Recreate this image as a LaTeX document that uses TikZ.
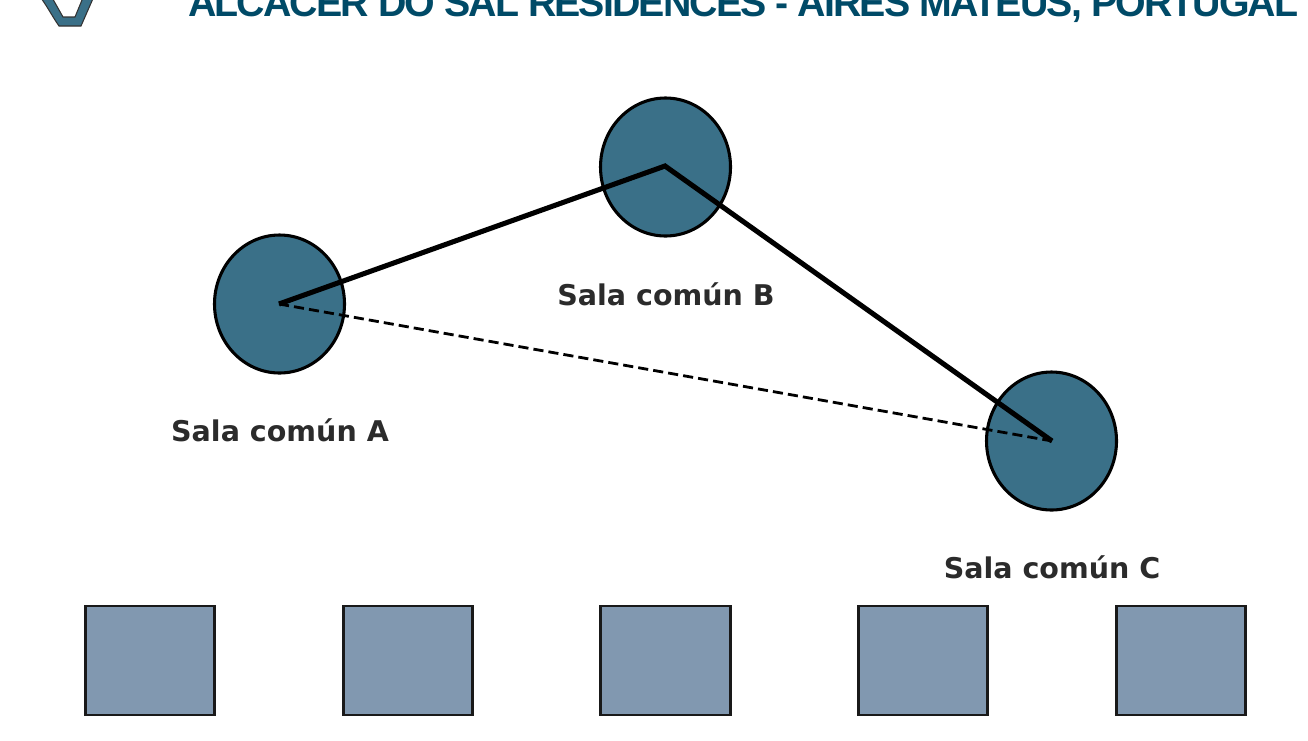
\documentclass[tikz,border=0pt]{standalone}
\usepackage{fontspec}
\setmainfont{Liberation Sans}
\newfontfamily\labelfont{DejaVu Sans}
\newfontfamily\titlefont[LetterSpace=-4.85]{Liberation Sans}
\definecolor{teal1}{HTML}{3A7088}
\definecolor{titleblue}{HTML}{004A67}
\definecolor{boxblue}{HTML}{8198B0}
\definecolor{labelgrey}{HTML}{2B2B2B}
\usetikzlibrary{shapes.geometric}
\tikzset{
  room/.style={draw=black,fill=teal1,line width=2.3pt,ellipse,minimum width=130*0.75pt,minimum height=138*0.75pt,inner sep=0pt},
  unit/.style={draw=black!90,fill=boxblue,line width=2pt,minimum width=129.5*0.75pt,minimum height=109*0.75pt,inner sep=0pt},
  roomlabel/.style={font=\labelfont\bfseries\fontsize{21.4}{25}\selectfont,text=labelgrey,anchor=base,inner sep=0pt},
  solidlink/.style={line width=3.8pt,draw=black},
  dashlink/.style={line width=2.1pt,draw=black,dash pattern=on 7.6pt off 3.8pt},
}
\begin{document}
\begin{tikzpicture}[x=0.75pt,y=-0.75pt]
\useasboundingbox (0,0) rectangle (1308,740);
\clip (0,0) rectangle (1308,740);
\path[fill=white] (0,0) rectangle (1308,740);
\node[room] (a) at (279.5,304) {};
\node[room] (b) at (665.5,167) {};
\node[room] (c) at (1051.5,441) {};
\coordinate (ca) at (279,304);
\coordinate (cb) at (665,166);
\coordinate (cc) at (1052,441);
\draw[solidlink,line join=miter] (ca) -- (cb) -- (cc);
\draw[dashlink] (ca) -- (cc);
\node[roomlabel] (la) at (280,441) {Sala común A};
\node[roomlabel] (lb) at (666,305) {Sala común B};
\node[roomlabel] (lc) at (1052,578) {Sala común C};
\node[unit] (u1) at (150,660.5) {};
\node[unit] (u2) at (408,660.5) {};
\node[unit] (u3) at (665.5,660.5) {};
\node[unit] (u4) at (923,660.5) {};
\node[unit] (u5) at (1181,660.5) {};
\node[font=\titlefont\bfseries\fontsize{29.5}{32}\selectfont,text=titleblue,anchor=base west,inner sep=0pt] (title) at (188,16) {ALCÁCER DO SAL RESIDENCES - AIRES MATEUS, PORTUGAL};
\path[draw=black!80,line width=0.8pt,fill=teal1] (38,-6) .. controls (46,4) and (52,16) .. (59,26) -- (81,26) -- (95,-6) -- (84.5,-6) -- (75,17) -- (63,17) -- (50,-6) -- cycle;
\end{tikzpicture}
\end{document}
